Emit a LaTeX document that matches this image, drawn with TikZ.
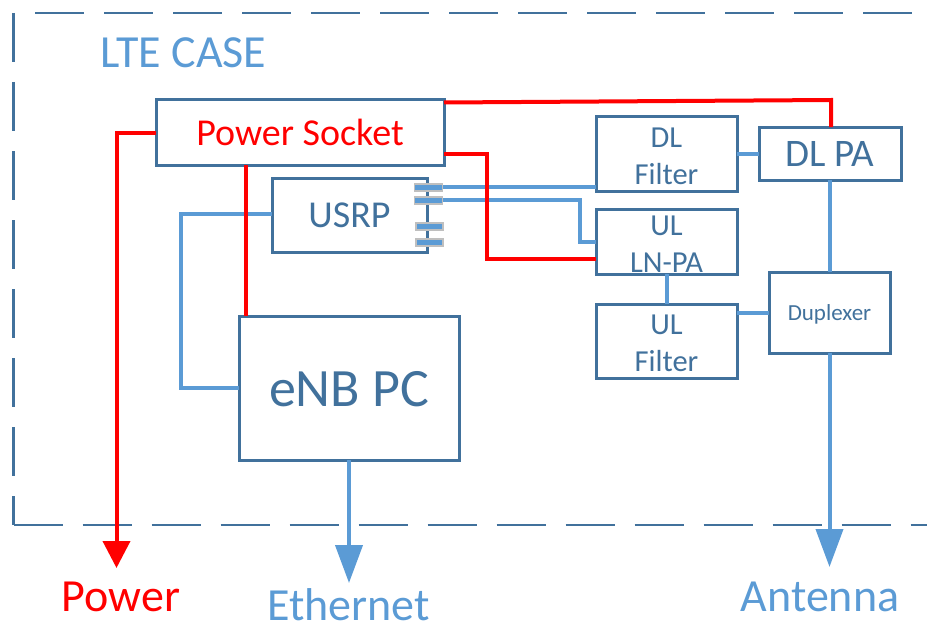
\documentclass[tikz,border=0pt]{standalone}
\usepackage{fontspec}
\setmainfont{Carlito}
\usetikzlibrary{arrows.meta,positioning}
\definecolor{slate}{HTML}{41719C}
\definecolor{sky}{HTML}{5B9BD5}
\definecolor{porte}{HTML}{BFBFBF}
\tikzset{
 box/.style={draw=slate,line width=3pt,inner sep=0pt,outer sep=0pt,text=slate,align=center},
 case/.style={draw=slate,line width=2.6pt,dash pattern=on 49pt off 20pt},
 redw/.style={draw=red,line width=4pt},
 redarrow/.style={draw=red,line width=4pt,-{Triangle[length=27pt,width=27pt]}},
 bluew/.style={draw=sky,line width=4pt},
 bluearrow/.style={draw=sky,line width=4pt,-{Triangle[length=38pt,width=27pt]}},
 port/.style={draw=porte,fill=sky,line width=1.6pt,inner sep=0pt,outer sep=0pt},
 lbl/.style={inner sep=0pt,outer sep=0pt,anchor=base},
}
\newcommand{\fs}[1]{\fontsize{#1}{#1}\selectfont}
\newcommand{\fsb}{\fontsize{30.5}{37}\selectfont}
\newcommand{\st}{\rule{0pt}{25pt}}
\begin{document}
\begin{tikzpicture}[x=1pt,y=-1pt]
\useasboundingbox (0,0) rectangle (927,626);
\clip (0,0) rectangle (927,626);
% case outline
\coordinate (cTL) at (13.5,13);
\coordinate (cBL) at (13.5,525);
\coordinate (cT) at (35,13);
\coordinate (cTR) at (927,13);
\coordinate (cBR) at (927,525);
\draw[case] (cTL) -- (cBL);
\draw[case] (cT) -- (cTR);
\draw[case] (cBL) -- (cBR);
\node[lbl,text=sky,font=\fs{46}] (title) at (183.5,67) {LTE CASE};
% boxes
\node[box,minimum width=288pt,minimum height=65pt,text=red,font=\fs{38}] (ps) at (300,132.5) {Power Socket};
\node[box,minimum width=155pt,minimum height=74pt,font=\fs{38}] (usrp) at (349.5,215) {USRP};
\node[box,minimum width=220pt,minimum height=144pt,font=\fs{54}] (enb) at (349,388) {\raisebox{-18pt}[0pt][0pt]{eNB PC}};
\node[box,minimum width=141pt,minimum height=75pt,font=\fsb] (dlf) at (666.5,153.5) {\st DL\\Filter};
\node[box,minimum width=142pt,minimum height=53pt,font=\fs{39}] (dlpa) at (830,153.5) {DL PA};
\node[box,minimum width=141pt,minimum height=65pt,font=\fsb] (ullna) at (666.5,241.5) {\st UL\\LN-PA};
\node[box,minimum width=141pt,minimum height=74pt,font=\fsb] (ulf) at (666.5,341) {\st UL\\Filter};
\node[box,minimum width=121pt,minimum height=81pt,font=\fs{23}] (dup) at (829.5,312.5) {\raisebox{-8pt}[0pt][0pt]{Duplexer}};
% labels
\node[lbl,text=red,font=\fs{46}] (lp) at (121,611) {Power};
\node[lbl,text=sky,font=\fs{46}] (le) at (348.5,620.5) {Ethernet};
\node[lbl,text=sky,font=\fs{46}] (la) at (820,611) {Antenna};
% free ends
\coordinate (tipP) at (116.5,568);
\coordinate (tipE) at (349,583);
\coordinate (tipA) at (829.5,567);
% blue connectors
\draw[bluew] ([yshift=1pt]usrp.west) -- ++(-91,0) |- (enb.west);
\draw[bluearrow] (enb.south) -- (tipE);
\draw[bluew] (dlpa.south -| dup.north) -- (dup.north);
\draw[bluearrow] (dup.south) -- (tipA);
\draw[bluew] (dlf.east) -- (dlf.east -| dlpa.west);
\draw[bluew] (ullna.south) -- (ulf.north);
\draw[bluew] (ulf.east |- dup.west) -- (dup.west);
\draw[bluew] ([yshift=28pt]usrp.east) -- ([yshift=-33.5pt]dlf.west);
\draw[bluew] ([yshift=15pt]usrp.east) -- ++(153,0) |- (ullna.west);
% red connectors
\draw[redw] ([yshift=30pt]ps.east) -- ([xshift=1pt]dlpa.north |- ps.north) -- ([xshift=1pt]dlpa.north);
\draw[redw] ([yshift=-21pt]ps.east) -- ++(43,0) |- ([yshift=-17.5pt]ullna.west);
\draw[redw] ([xshift=-54pt]ps.south) -- ([xshift=-103pt]enb.north);
\draw[redarrow] (ps.west) -| (tipP);
% ports
\node[port,minimum width=28pt,minimum height=7pt] (p1) at (428.5,187.5) {};
\node[port,minimum width=28pt,minimum height=7pt] (p2) at (428.5,200.5) {};
\node[port,minimum width=27pt,minimum height=7pt] (p3) at (429.5,226.5) {};
\node[port,minimum width=27pt,minimum height=7pt] (p4) at (429.5,242.5) {};
\end{tikzpicture}
\end{document}
